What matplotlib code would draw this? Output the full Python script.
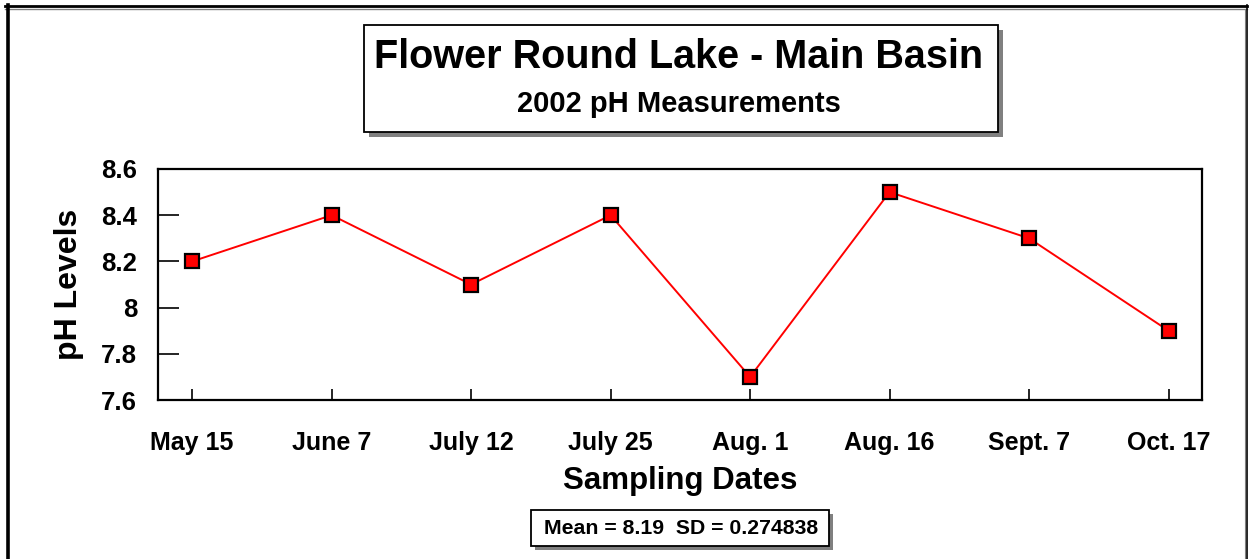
import matplotlib
matplotlib.use("Agg")
import matplotlib.pyplot as plt
from matplotlib.patches import Rectangle
from matplotlib.lines import Line2D

dates = ["May 15", "June 7", "July 12", "July 25", "Aug. 1", "Aug. 16", "Sept. 7", "Oct. 17"]
ph = [8.2, 8.4, 8.1, 8.4, 7.7, 8.5, 8.3, 7.9]
yticks = [7.6, 7.8, 8.0, 8.2, 8.4, 8.6]
ytick_labels = ["7.6", "7.8", "8", "8.2", "8.4", "8.6"]
title = "Flower Round Lake - Main Basin"
subtitle = "2002 pH Measurements"
stats = "Mean = 8.19  SD = 0.274838"

plt.rcParams['font.family'] = ['Liberation Sans', 'DejaVu Sans']
plt.rcParams['font.weight'] = 'bold'

W, H = 1249, 559
fig = plt.figure(figsize=(W / 100, H / 100), dpi=100)

def fx(px):
    return px / W

def fy(py):
    return 1 - py / H

# outer frame
fig.add_artist(Line2D([fx(5), fx(1247)], [fy(6), fy(6)], color='black', lw=2.0))
fig.add_artist(Line2D([fx(5), fx(1247)], [fy(8.5), fy(8.5)], color='gray', lw=1.0))
fig.add_artist(Line2D([fx(7.5), fx(7.5)], [fy(5), fy(559)], color='black', lw=2.6))
fig.add_artist(Line2D([fx(1246.5), fx(1246.5)], [fy(5), fy(559)], color='black', lw=1.2))
fig.add_artist(Line2D([fx(1244.5), fx(1244.5)], [fy(9), fy(559)], color='gray', lw=0.8))

def shadow_box(x0, y0, x1, y1, off=5):
    fig.add_artist(Rectangle((fx(x0 + off), fy(y1 + off)), fx(x1 - x0), (y1 - y0) / H,
                             facecolor='#808080', edgecolor='none'))
    fig.add_artist(Rectangle((fx(x0), fy(y1)), fx(x1 - x0), (y1 - y0) / H,
                             facecolor='white', edgecolor='black', lw=1.3))

shadow_box(364, 25, 998, 132)
fig.text(fx(679), fy(57), title, ha='center', va='center', fontsize=28.5, fontweight='bold')
fig.text(fx(679), fy(104), subtitle, ha='center', va='center', fontsize=21, fontweight='bold')

shadow_box(531, 510, 829, 546, off=4)
fig.text(fx(681), fy(528), stats, ha='center', va='center', fontsize=15.3, fontweight='bold')

ax = fig.add_axes([fx(158), fy(400), fx(1202 - 158), (400 - 169) / H])
x = list(range(len(dates)))
ax.plot(x, ph, color='red', lw=1.4, marker='s', markersize=10,
        markerfacecolor='red', markeredgecolor='black', markeredgewidth=1.6, zorder=3)
ax.set_xlim(-0.245, 7.24)
ax.set_ylim(7.6, 8.6)
ax.set_yticks(yticks)
ax.set_yticklabels(ytick_labels, fontsize=18.5, fontweight='bold')
ax.set_xticks(x)
ax.set_xticklabels(dates, fontsize=18, fontweight='bold')
ax.tick_params(axis='y', direction='in', length=15, width=1.2, pad=15)
ax.tick_params(axis='x', direction='in', length=8, width=1.2, pad=22)
for s in ax.spines.values():
    s.set_linewidth(1.6)
ax.set_xlabel("Sampling Dates", fontsize=22.5, fontweight='bold', labelpad=8)
ax.set_ylabel("pH Levels", fontsize=23, fontweight='bold', labelpad=12)

fig.savefig("out.png", dpi=100)
